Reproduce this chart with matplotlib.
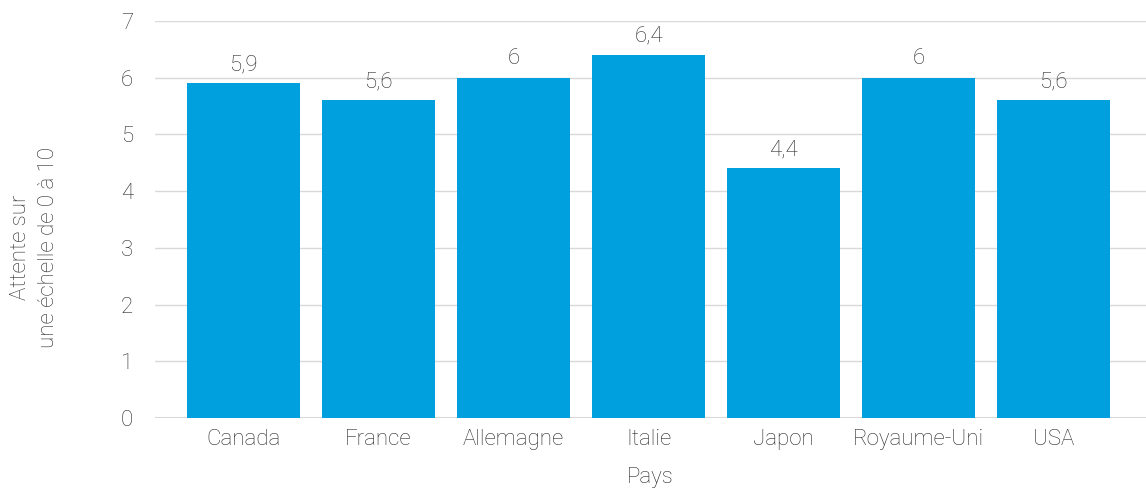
import matplotlib
matplotlib.use("Agg")
import matplotlib.pyplot as plt

categories = ["Canada", "France", "Allemagne", "Italie", "Japon", "Royaume-Uni", "USA"]
values = [5.9, 5.6, 6.0, 6.4, 4.4, 6.0, 5.6]
value_labels = ["5,9", "5,6", "6", "6,4", "4,4", "6", "5,6"]
y_ticks = [0, 1, 2, 3, 4, 5, 6, 7]

plt.rcParams['font.family'] = ['Roboto', 'DejaVu Sans']
plt.rcParams['font.weight'] = 'light'
text_color = "#2a2a2a"
bar_color = "#00A0DF"
fs = 16

fig = plt.figure(figsize=(11.46, 4.88), dpi=100)
ax = fig.add_axes([0.1353, 0.1434, 0.8647, 0.8135])

x = list(range(len(categories)))
bars = ax.bar(x, values, width=0.837, color=bar_color, zorder=3)
for xi, v, lab in zip(x, values, value_labels):
    ax.annotate(lab, (xi, v), xytext=(0, 6), textcoords="offset points",
                ha="center", va="bottom", fontsize=fs, color=text_color, fontweight="light")

ax.set_xlim(-0.656, 6.685)
ax.set_ylim(0, 7)
ax.set_yticks(y_ticks)
ax.set_yticklabels([str(t) for t in y_ticks])
ax.set_xticks(x)
ax.set_xticklabels(categories)
ax.tick_params(axis="both", length=0, labelsize=fs, labelcolor=text_color)
ax.tick_params(axis="y", pad=16)
ax.tick_params(axis="x", pad=8)
for lab in ax.get_xticklabels() + ax.get_yticklabels():
    lab.set_fontweight("light")
ax.grid(axis="y", color="#d9d9d9", linewidth=1, zorder=0)
for s in ax.spines.values():
    s.set_visible(False)
ax.axhline(0, color="#d9d9d9", linewidth=1.5, zorder=2)

ax.set_xlabel("Pays", fontsize=fs, color=text_color, labelpad=12, fontweight="light")
ax.set_ylabel("Attente sur\nune échelle de 0 à 10", fontsize=fs, color=text_color,
              linespacing=1.45, ha="center", va="center", fontweight="light")
ax.yaxis.set_label_coords(-0.122, 0.43)

fig.savefig("out.png", dpi=100)
